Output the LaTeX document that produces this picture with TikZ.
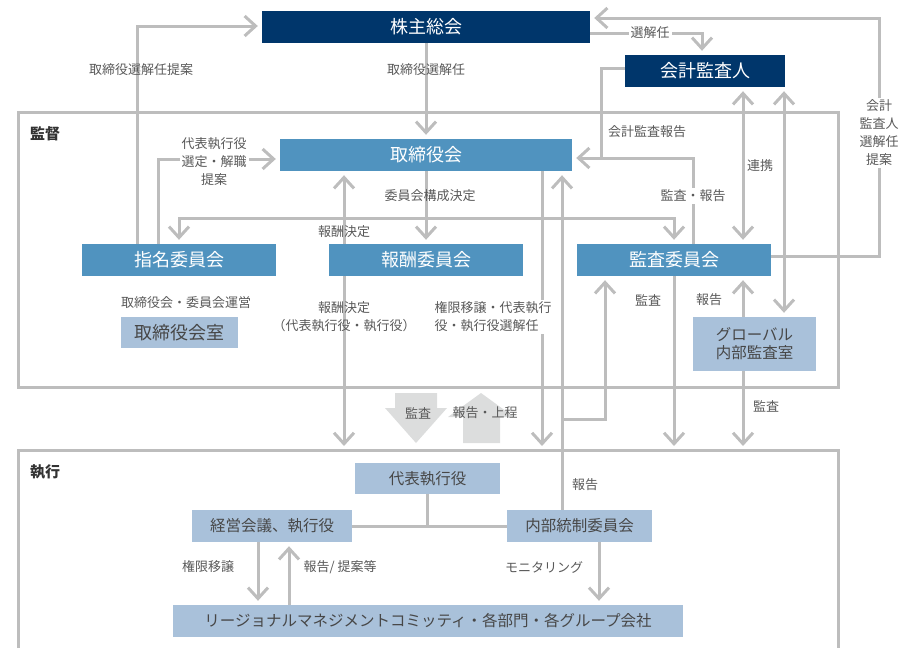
\documentclass[tikz,border=0pt]{standalone}
\usepackage{fontspec}
\setmainfont{Noto Sans CJK JP}
\usetikzlibrary{arrows.meta}
\definecolor{navy}{HTML}{00366B}
\definecolor{midblue}{HTML}{5093BF}
\definecolor{paleblue}{HTML}{A9C1DA}
\definecolor{linegray}{HTML}{BDBDBD}
\definecolor{textgray}{HTML}{595959}
\definecolor{blockgray}{HTML}{DCDDDD}

\begin{document}
\begin{tikzpicture}[x=1pt,y=-1pt,
every node/.style={inner sep=0pt,align=center,text=textgray,font=\fontsize{13}{18}\selectfont},
navybox/.style={fill=navy,text=white,minimum height=32pt,font=\fontsize{18}{22}\selectfont},
bluebox/.style={fill=midblue,text=white,minimum height=32pt,font=\fontsize{18}{22}\selectfont},
palebox/.style={fill=paleblue,text=black!72,minimum height=31pt,font=\fontsize{15.5}{18}\selectfont},
wire/.style={draw=linegray,line width=3pt},
arr/.style={wire,-{Straight Barb[length=11pt,width=20pt]},shorten >=4pt},
dblarr/.style={arr,{Straight Barb[length=11pt,width=20pt]}-{Straight Barb[length=11pt,width=20pt]},shorten <=4pt},
lbl/.style={fill=white,inner sep=2pt},
areaname/.style={font=\fontsize{15}{18}\selectfont\bfseries,text=black!80}]
\useasboundingbox (0,0) rectangle (901,648);
\draw[wire] (18,112) rectangle (838,387);
\draw[wire] (18,648) -- (18,450) -- (838,450) -- (838,648);
\coordinate (exectop) at (0,450);
\node[areaname] (supv) at (45,134) {監督};
\node[areaname] (exec) at (45,472) {執行};

\node[navybox,minimum width=328pt] (gm) at (426,27) {株主総会};
\node[navybox,minimum width=160pt] (auditor) at (705,71) {会計監査人};
\node[bluebox,minimum width=292pt] (board) at (426,155) {取締役会};
\node[bluebox,minimum width=194pt] (nom) at (179,260) {指名委員会};
\node[bluebox,minimum width=194pt] (comp) at (426,260) {報酬委員会};
\node[bluebox,minimum width=194pt] (audit) at (674,260) {監査委員会};
\node[palebox,minimum width=117pt,font=\fontsize{18}{22}\selectfont] (office) at (179.5,332.5) {取締役会室};
\node[palebox,minimum width=123pt,minimum height=54pt] (ia) at (754.5,344) {グローバル\\内部監査室};
\node[palebox,minimum width=145pt] (ceo) at (427.5,478.5) {代表執行役};
\node[palebox,minimum width=160pt,minimum height=32pt] (mgmt) at (272,526) {経営会議、執行役};
\node[palebox,minimum width=145pt,minimum height=32pt] (icc) at (579.5,526) {内部統制委員会};
\node[palebox,minimum width=510pt,minimum height=32pt] (region) at (428,621) {リージョナルマネジメントコミッティ・各部門・各グループ会社};
\node (officenote) at (186,303) {取締役会・委員会運営};

\draw[arr] ([yshift=-6pt]gm.east) -| ([xshift=-3pt]auditor.north);
\node[lbl] (selaud) at (650,33) {選解任};
\draw[arr] ([yshift=4pt]audit.east) -| (879,18) -- ([yshift=9pt]gm.east);
\node[lbl] (propaud) at (879,133) {会計\\監査人\\選解任\\提案};
\draw[arr] ([xshift=-42pt]nom.north) |- ([yshift=1pt]gm.west);
\node (propdir) at (141,70) {取締役選解任提案};
\draw[arr] ([xshift=-21pt]nom.north) |- ([yshift=-4pt]board.west);
\node[lbl] (propceo) at (214,162) {代表執行役\\選定・解職\\提案};
\draw[arr] (gm) -- (board);
\node (seldir) at (426,70) {取締役選解任};
\draw[arr] (board) -- (comp);
\coordinate (split) at (426,218);
\draw[arr] (split) -| (nom.north);
\draw[arr] (split) -| (audit.north);
\node (members) at (430,196) {委員会構成決定};
\draw[arr] ([xshift=-82pt]comp.north) -- ([xshift=-82pt]board.south);
\node (paydir) at (344,232) {報酬決定};
\draw[arr] ([xshift=-82pt]comp.south) -- ([xshift=-82pt]comp.south |- exectop);
\node (payexec) at (344,317) {報酬決定\\（代表執行役・執行役）};
\draw[arr] ([xshift=116pt]board.south) -- ([xshift=116pt]board.south |- exectop);
\node[lbl,align=left] (deleg) at (493,317) {権限移譲・代表執行\\役・執行役選解任};
\draw[arr] ([xshift=-17.5pt]icc.north) -- ([xshift=136pt]board.south);
\coordinate (branch) at ([xshift=-17.5pt]icc.north |- 0,419);
\draw[arr] (branch) -| ([xshift=-69pt]audit.south);
\node (repicc) at (585,485) {報告};
\draw[arr] (audit.south) -- (audit.south |- exectop);
\node (audexec) at (648,300) {監査};
\draw[arr] ([xshift=-11.5pt]ia.north) -- ([xshift=69pt]audit.south);
\node (repia) at (709,300) {報告};
\draw[arr] ([xshift=-11.5pt]ia.south) -- ([xshift=-11.5pt]ia.south |- exectop);
\node (audia) at (766,406) {監査};
\draw[dblarr] ([xshift=38pt]auditor.south) -- ([xshift=69pt]audit.north);
\node (coop) at (760,166) {連携};
\draw[dblarr] ([xshift=79pt]auditor.south) -- ([xshift=29.5pt]ia.north);
\draw[arr] ([xshift=19pt]audit.north) |- ([yshift=-3pt]board.east);
\draw[wire] ([yshift=3pt]auditor.west) -| (601,158);
\node (accrep) at (647,132) {会計監査報告};
\node[lbl] (audrep) at (693,196) {監査・報告};

\fill[blockgray] (395,393) -- (437,393) -- (437,408) -- (447,408) -- (416,443) -- (385,408) -- (395,408) -- cycle;
\node (down) at (418,413) {監査};
\fill[blockgray] (463,443) -- (463,417) -- (448,417) -- (481,393) -- (514,417) -- (500,417) -- (500,443) -- cycle;
\node (up) at (485,413) {報告・上程};

\draw[wire] (ceo) -- (ceo.south |- mgmt.east);
\draw[wire] (mgmt) -- (icc);
\draw[arr] ([xshift=-14pt]mgmt.south) -- ([xshift=-14pt]mgmt.south |- region.north);
\node (delegdown) at (208,567) {権限移譲};
\draw[arr] ([xshift=17pt]mgmt.south |- region.north) -- ([xshift=17pt]mgmt.south);
\node (repup) at (340,567) {報告/ 提案等};
\draw[arr] ([xshift=19.5pt]icc.south) -- ([xshift=19.5pt]icc.south |- region.north);
\node (monitor) at (544,567) {モニタリング};
\end{tikzpicture}
\end{document}
